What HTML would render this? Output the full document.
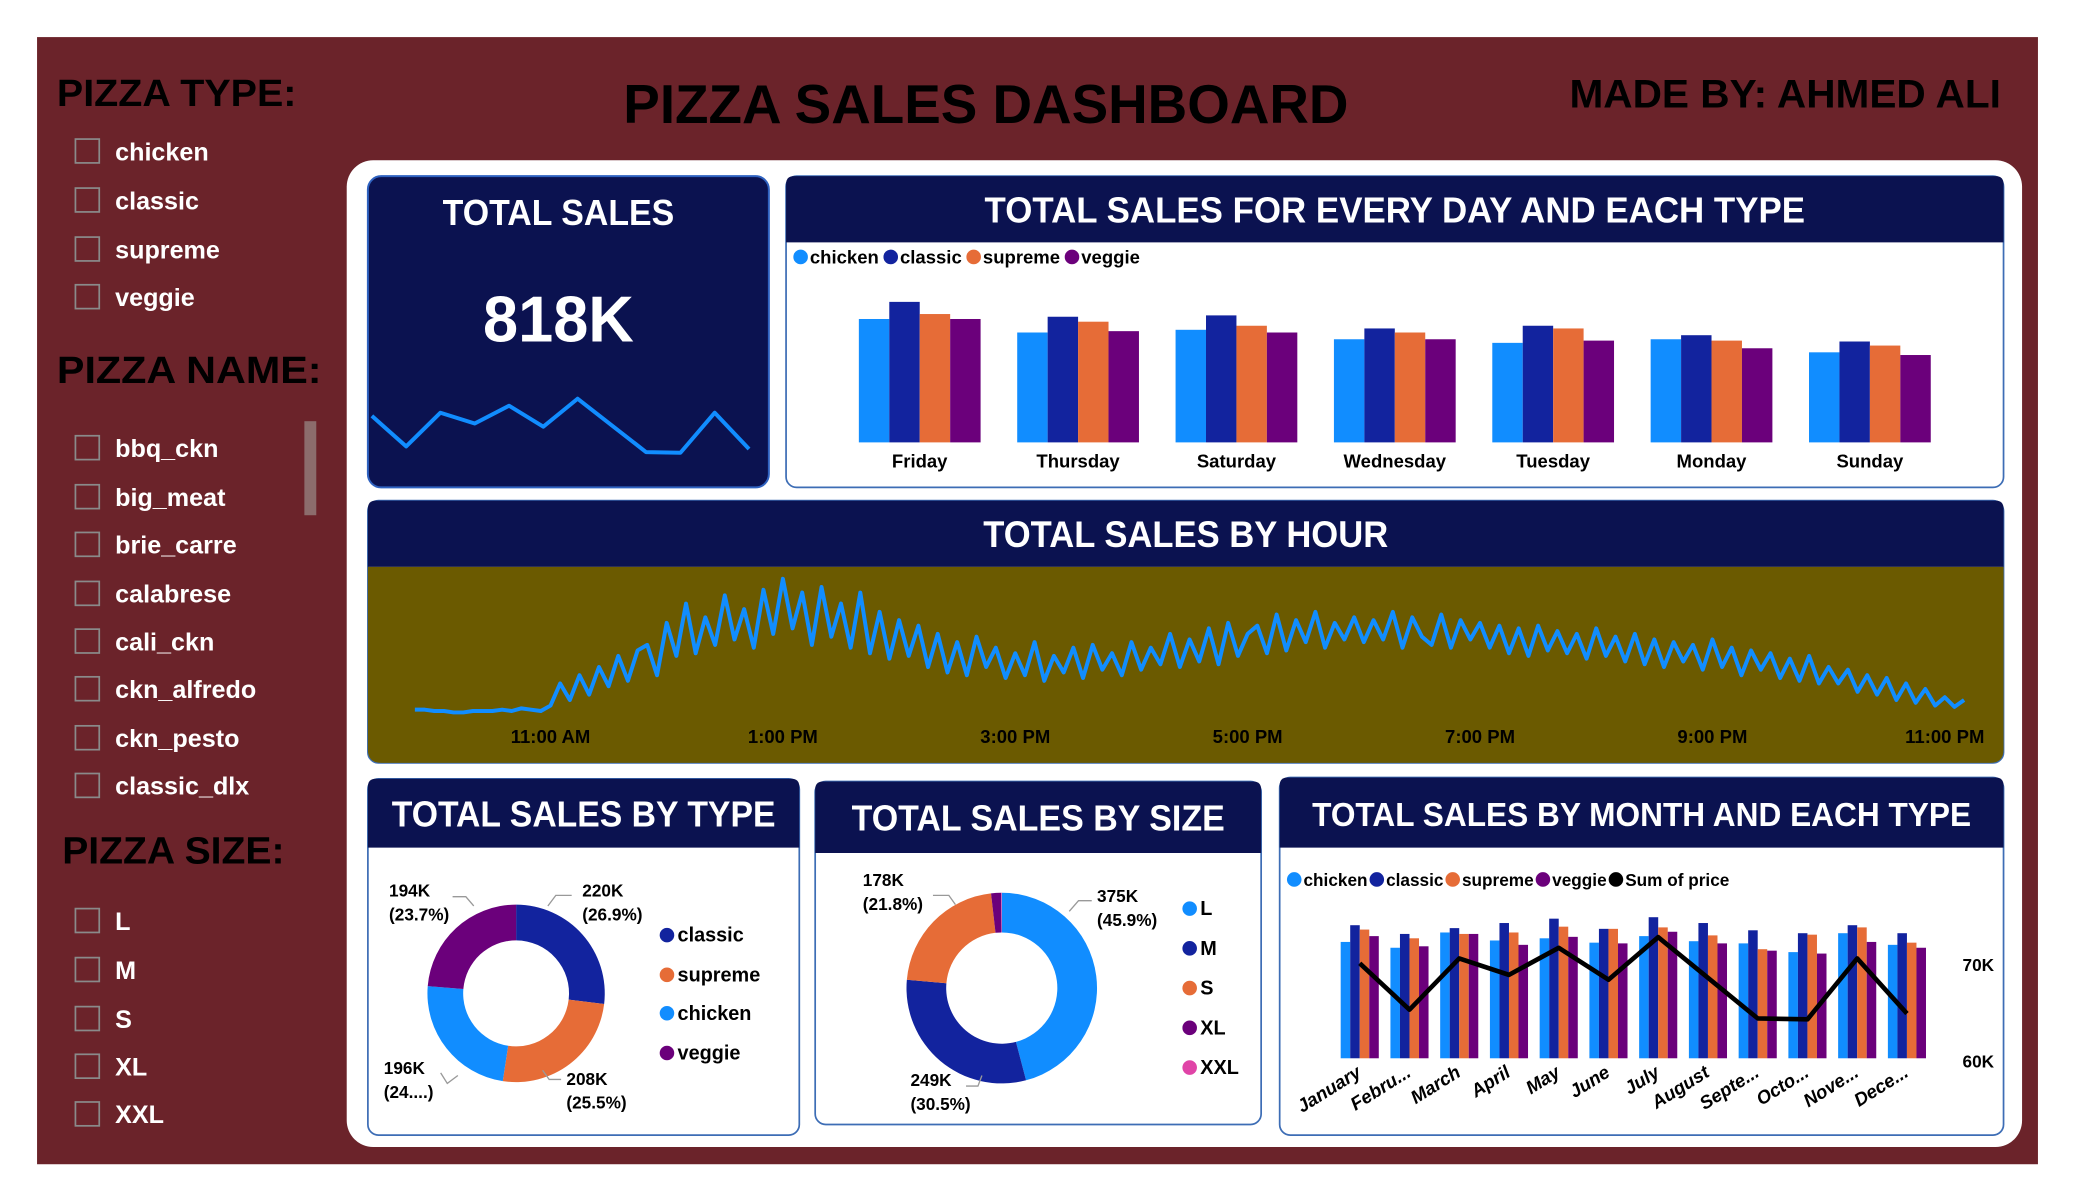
<!DOCTYPE html>
<html><head><meta charset="utf-8"><style>
html,body{margin:0;padding:0;background:#fff;width:2075px;height:1200px;overflow:hidden}
svg text{font-family:"Liberation Sans",sans-serif;font-weight:bold}
</style></head><body>
<svg id="s" xmlns="http://www.w3.org/2000/svg" width="2075" height="1200" viewBox="0 0 1568 906" preserveAspectRatio="none">
<rect x="0" y="0" width="1568" height="906" fill="#fff"/>
<rect x="28" y="28" width="1512" height="851" fill="#6b232a"/>
<text x="745" y="93" font-size="41" text-anchor="middle" fill="#000" textLength="548" lengthAdjust="spacingAndGlyphs">PIZZA SALES DASHBOARD</text>
<text x="1512" y="81" font-size="30" text-anchor="end" fill="#000" textLength="326" lengthAdjust="spacingAndGlyphs">MADE BY: AHMED ALI</text>
<rect x="262" y="121" width="1266" height="745" rx="20" fill="#fff"/>
<g id="slicers"></g>
<g id="cards"></g>
</svg>
<script>
// ---------- data ----------
const days = ["Friday","Thursday","Saturday","Wednesday","Tuesday","Monday","Sunday"];
const dayChicken = [27.4,24.4,25.0,22.9,22.1,22.9,20.0];
const dayClassic = [31.2,27.9,28.2,25.3,25.9,23.8,22.4];
const daySupreme = [28.5,26.8,25.9,24.4,25.3,22.6,21.5];
const dayVeggie  = [27.4,24.7,24.4,22.9,22.6,20.9,19.4];

const hourTicks = ["11:00 AM","1:00 PM","3:00 PM","5:00 PM","7:00 PM","9:00 PM","11:00 PM"];
const hourTickVals = [11,13,15,17,19,21,23];
const hourStart = 9.833;
const hourStepMin = 5;
const hourSales = [5,5,4,4,3,3,4,4,4,5,4,6,5,4,
 8,24,12,30,16,36,22,44,26,48,52,30,
 68,44,82,46,72,52,88,56,78,50,92,60,
 100,64,90,52,94,58,82,50,90,46,76,42,
 70,44,66,36,60,32,54,30,58,36,50,28,
 46,30,54,26,44,32,50,28,52,34,46,30,
 54,34,50,38,60,36,56,40,64,38,68,44,
 60,66,46,74,48,70,54,76,50,68,56,72,
 54,70,56,76,50,72,58,52,74,50,70,56,
 68,50,66,46,64,44,66,48,62,46,60,42,
 64,44,58,40,60,38,56,36,54,40,52,34,
 56,36,50,30,48,34,46,28,42,26,44,24,
 36,24,34,18,30,16,28,12,24,10,20,8,
 14,7,12];

const typeNames = ["classic","supreme","chicken","veggie"];
const typeShares = [26.9,25.5,23.9,23.7];
const typeLabels = ["220K\n(26.9%)","208K\n(25.5%)","196K\n(24....)","194K\n(23.7%)"];

const sizeNames = ["L","M","S","XL","XXL"];
const sizeShares = [45.9,30.5,21.8,1.7,0.1];
const sizeLabels = ["375K\n(45.9%)","249K\n(30.5%)","178K\n(21.8%)","",""];

const months = ["January","Febru...","March","April","May","June","July","August","Septe...","Octo...","Nove...","Dece..."];
const monChicken = [16.0,15.2,17.3,16.2,16.5,15.9,16.8,16.1,15.8,14.6,17.2,15.6];
const monClassic = [18.3,17.1,17.9,18.6,19.2,17.8,19.4,18.6,17.6,17.2,18.3,17.2];
const monSupreme = [17.7,16.5,17.1,17.3,18.1,17.8,18.0,16.9,15.0,17.0,18.0,15.9];
const monVeggie  = [16.8,15.4,17.1,15.6,16.7,15.8,17.4,15.8,14.8,14.4,16.0,15.2];
const monSum     = [70.1,65.3,70.6,68.9,71.7,68.4,72.8,68.6,64.4,64.3,70.6,64.9];
const monAxisTicks = [70,60];
const monAxisLabels = ["70K","60K"];

const C = {chicken:"#118dff",classic:"#12239e",supreme:"#e66c37",veggie:"#6b007b",navy:"#0b1250"};
const sizeColors = ["#118dff","#12239e","#e66c37","#6b007b","#e044a7"];
const typeColors = [C.classic,C.supreme,C.chicken,C.veggie];

// ---------- helpers ----------
const NS="http://www.w3.org/2000/svg";
function mk(tag,attrs,parent,text){const e=document.createElementNS(NS,tag);for(const k in attrs)e.setAttribute(k,attrs[k]);if(text!==undefined)e.textContent=text;parent.appendChild(e);return e;}
const svg=document.getElementById('s');
const slic=document.getElementById('slicers');
const cards=document.getElementById('cards');

// ---------- slicers ----------
function heading(t,x,y,w){const e=mk('text',{x:x,y:y,'font-size':29,fill:'#000',textLength:w,lengthAdjust:'spacingAndGlyphs'},slic,t);

}
function item(t,y){const g=mk('g',{},slic);


mk('rect',{x:57,y:y-9,width:18,height:18,fill:'none',stroke:'#8a8a8a','stroke-width':1.3},g);
mk('text',{x:87,y:y+7,'font-size':19,fill:'#fff'},g,t);}
heading("PIZZA TYPE:",43,80,181);
["chicken","classic","supreme","veggie"].forEach((t,i)=>item(t,[114,151,188,224][i]));
heading("PIZZA NAME:",43,289,200);
["bbq_ckn","big_meat","brie_carre","calabrese","cali_ckn","ckn_alfredo","ckn_pesto","classic_dlx"].forEach((t,i)=>item(t,[338,375,411,448,484,520,557,593][i]));
const sb=mk('rect',{x:230,y:318,width:9,height:71,fill:'#8c6c6c'},slic);


heading("PIZZA SIZE:",47,652,168);
["L","M","S","XL","XXL"].forEach((t,i)=>item(t,[695,732,769,805,841][i]));

// ---------- card helper ----------
function card(name,x,y,w,h,hh,title,fs,tw){const g=mk('g',{},cards);


mk('rect',{x:x,y:y,width:w,height:h,rx:8,fill:'#fff',stroke:'#3d6db5','stroke-width':1.3},g);
if(hh){mk('path',{d:`M${x} ${y+hh}V${y+6}Q${x} ${y} ${x+6} ${y}H${x+w-6}Q${x+w} ${y} ${x+w} ${y+6}V${y+hh}Z`,fill:C.navy},g);
const t=mk('text',{x:x+w/2,y:y+hh/2+10,'font-size':fs,fill:'#fff','text-anchor':'middle',textLength:tw,lengthAdjust:'spacingAndGlyphs'},g,title);

}
return g;}
function legend(g,names,colors,x,y,gap,fs){let cx=x;names.forEach((n,i)=>{const lg=mk('g',{},g);


mk('circle',{cx:cx+5,cy:y-5,r:5.5,fill:colors[i]},lg);
const t=mk('text',{x:cx+12,y:y,'font-size':fs,fill:'#000'},lg,n);
cx+=12+t.getComputedTextLength()+gap;});}

// ---------- total sales KPI ----------
{const g=mk('g',{},cards);


mk('rect',{x:278,y:133,width:303,height:235,rx:10,fill:C.navy,stroke:'#2f62c0','stroke-width':1.5},g);
const t1=mk('text',{x:422,y:170,'font-size':27,fill:'#fff','text-anchor':'middle',textLength:175,lengthAdjust:'spacingAndGlyphs'},g,"TOTAL SALES");


const t2=mk('text',{x:422,y:258,'font-size':49,fill:'#fff','text-anchor':'middle',textLength:114,lengthAdjust:'spacingAndGlyphs'},g,"818K");


const sx=i=>281+i*(566-281)/(monSum.length-1), sy=v=>314-(v-70.1)*4.8;
const sp=mk('polyline',{points:monSum.map((v,i)=>sx(i)+','+sy(v)).join(' '),fill:'none',stroke:'#118dff','stroke-width':3,'stroke-linejoin':'round'},g);

}

// ---------- day chart ----------
{const g=card('day-type-chart',594,133,920,235,50,"TOTAL SALES FOR EVERY DAY AND EACH TYPE",27,620);
legend(g,["chicken","classic","supreme","veggie"],[C.chicken,C.classic,C.supreme,C.veggie],600,199,4,14);
const base=334, k=3.4, step=(1413-695)/6, bw=23;
const series=[dayChicken,dayClassic,daySupreme,dayVeggie], cols=[C.chicken,C.classic,C.supreme,C.veggie], nm=["chicken","classic","supreme","veggie"];
days.forEach((d,i)=>{const cx=695+i*step;
series.forEach((s,j)=>{const h=s[i]*k;const r=mk('rect',{x:cx-2*bw+j*bw,y:base-h,width:bw,height:h,fill:cols[j]},g);

});
const t=mk('text',{x:cx,y:353,'font-size':14,fill:'#000','text-anchor':'middle'},g,d);

});}

// ---------- hour chart ----------
{const g=card('hour-chart',278,378,1236,198,50,"TOTAL SALES BY HOUR",28,306);
mk('path',{d:"M278 428H1514V566Q1514 576 1504 576H288Q278 576 278 566Z",fill:'#6b5a00'},g);
const hx=t=>416+(t-11)*87.8, hy=v=>541-v*1.04;
hourTicks.forEach((t,i)=>{const e=mk('text',{x:hx(hourTickVals[i]),y:561,'font-size':14,fill:'#000','text-anchor':'middle'},g,t);

});
const pts=hourSales.map((v,i)=>hx(hourStart+i*hourStepMin/60).toFixed(1)+','+hy(v).toFixed(1)).join(' ');
const l=mk('polyline',{points:pts,fill:'none',stroke:'#118dff','stroke-width':3,'stroke-linejoin':'round'},g);

}

// ---------- donut helper ----------
function donut(g,cx,cy,R,r,shares,colors,names,labels,labelPos){let a=-Math.PI/2;const tot=shares.reduce((p,c)=>p+c,0);
shares.forEach((s,i)=>{const a2=a+s/tot*2*Math.PI;const lg=a2-a>Math.PI?1:0;
const p=(ang,rr)=>(cx+rr*Math.cos(ang)).toFixed(2)+' '+(cy+rr*Math.sin(ang)).toFixed(2);
const e=mk('path',{d:`M${p(a,R)}A${R} ${R} 0 ${lg} 1 ${p(a2,R)}L${p(a2,r)}A${r} ${r} 0 ${lg} 0 ${p(a,r)}Z`,fill:colors[i]},g);


a=a2;});
labels.forEach((lab,i)=>{if(!lab)return;const [lx,ly,anc]=labelPos[i];const parts=lab.split('\n');
const t=mk('text',{x:lx,y:ly,'font-size':13,fill:'#000','text-anchor':anc},g);


parts.forEach((pt,j)=>mk('tspan',{x:lx,dy:j?18:0},t,pt));});}
function vlegend(g,names,colors,x,ys){names.forEach((n,i)=>{const lg=mk('g',{},g);


mk('circle',{cx:x,cy:ys[i]-5,r:5.5,fill:colors[i]},lg);
mk('text',{x:x+8,y:ys[i],'font-size':15,fill:'#000'},lg,n);});}

// ---------- type donut ----------
{const g=card('type-donut-chart',278,588,326,269,52,"TOTAL SALES BY TYPE",27,290);
donut(g,390,750,67,40,typeShares,typeColors,typeNames,typeLabels,[[440,677,'start'],[428,819,'start'],[290,811,'start'],[294,677,'start']]);
[[[432,676],[420,676],[414,684]],[[424,815],[415,815],[410,808]],[[333,810],[338,818],[346,812]],[[342,677],[352,677],[358,684]]].forEach(pp=>mk('polyline',{points:pp.map(p=>p.join(',')).join(' '),fill:'none',stroke:'#999','stroke-width':1},g));
vlegend(g,typeNames,typeColors,504,[711,741,770,800]);}

// ---------- size donut ----------
{const g=card('size-donut-chart',616,590,337,259,54,"TOTAL SALES BY SIZE",27,282);
donut(g,757,746,72,42,sizeShares,sizeColors,sizeNames,sizeLabels,[[829,681,'start'],[688,820,'start'],[652,669,'start'],[0,0,'start'],[0,0,'start']]);
[[[825,680],[815,680],[808,688]],[[730,820],[739,820],[742,812]],[[705,676],[717,676],[722,683]]].forEach(pp=>mk('polyline',{points:pp.map(p=>p.join(',')).join(' '),fill:'none',stroke:'#999','stroke-width':1},g));
vlegend(g,sizeNames,sizeColors,899,[691,721,751,781,811]);}

// ---------- month chart ----------
{const g=card('month-type-chart',967,587,547,270,53,"TOTAL SALES BY MONTH AND EACH TYPE",25,498);
legend(g,["chicken","classic","supreme","veggie","Sum of price"],[C.chicken,C.classic,C.supreme,C.veggie,"#000"],973,669,2,13);
const base=799,k=5.49,step=(1441-1027.5)/11,bw=7.2;
const mx=i=>1027.5+i*step;
const series=[monChicken,monClassic,monSupreme,monVeggie],cols=[C.chicken,C.classic,C.supreme,C.veggie],nm=["chicken","classic","supreme","veggie"];
months.forEach((m,i)=>{series.forEach((s,j)=>{const h=s[i]*k;const r=mk('rect',{x:mx(i)-2*bw+j*bw,y:base-h,width:bw,height:h,fill:cols[j]},g);

});
const t=mk('text',{x:mx(i)+2,y:812,'font-size':14,'font-style':'italic',fill:'#000','text-anchor':'end',transform:`rotate(-32 ${mx(i)+2} 812)`},g,m);

});
const ly=v=>728-(v-70)*7.3;
monAxisTicks.forEach((v,i)=>{const t=mk('text',{x:1483,y:ly(v)+5,'font-size':13,fill:'#000'},g,monAxisLabels[i]);

});
const l=mk('polyline',{points:monSum.map((v,i)=>mx(i)+','+ly(v)).join(' '),fill:'none',stroke:'#000','stroke-width':3.5,'stroke-linejoin':'round'},g);

}
</script>
</body></html>
